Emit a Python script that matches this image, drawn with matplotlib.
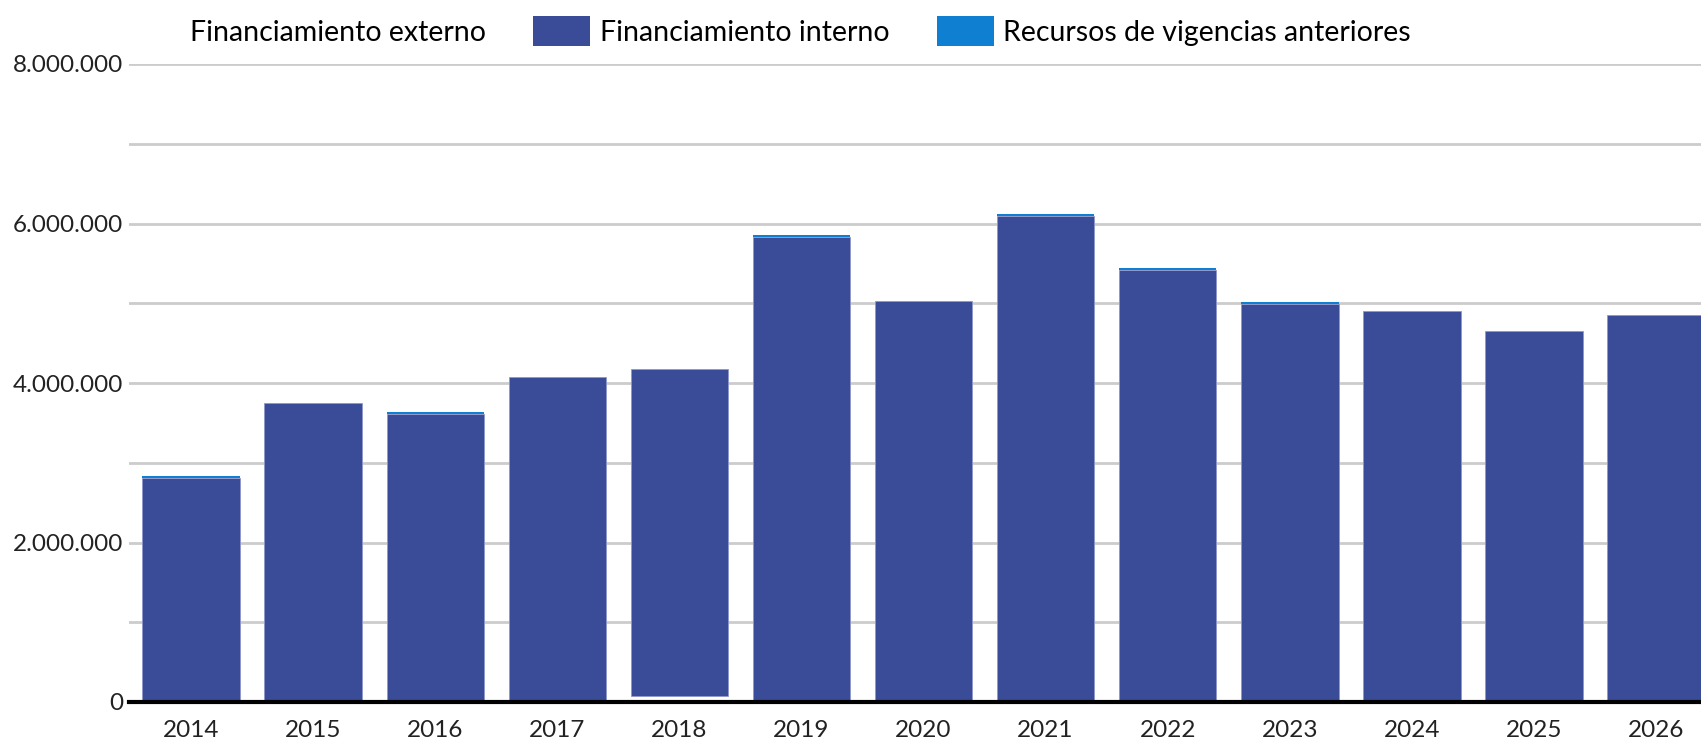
import matplotlib
matplotlib.use("Agg")
import matplotlib.pyplot as plt
import matplotlib.patches as mpatches
from matplotlib.ticker import FuncFormatter, MultipleLocator
import numpy as np

years = ["2014", "2015", "2016", "2017", "2018", "2019", "2020",
         "2021", "2022", "2023", "2024", "2025", "2026"]
externo = [0, 0, 0, 0, 80000, 0, 0, 0, 0, 0, 0, 0, 0]
interno = [2813000, 3743000, 3617000, 4069000, 4090000, 5827000, 5024000,
           6091000, 5413000, 4986000, 4898000, 4647000, 4848000]
anteriores = [25000, 0, 25000, 0, 0, 25000, 0, 25000, 25000, 25000, 0, 0, 0]

series_names = ["Financiamiento externo", "Financiamiento interno",
                "Recursos de vigencias anteriores"]
colors = ["#ffffff", "#3a4b98", "#0e7fd1"]

plt.rcParams['font.family'] = ['Lato', 'DejaVu Sans']

fig = plt.figure(figsize=(17.01, 7.43), dpi=100)
ax = fig.add_axes([129/1701, 41/743, 1 - 129/1701, (702-64)/743])

x = np.arange(len(years))
w = 0.8
ext = np.array(externo)
intr = np.array(interno)
ant = np.array(anteriores)
ax.bar(x, ext, w, color=colors[0], zorder=3)
ax.bar(x, intr, w, bottom=ext, color=colors[1], edgecolor="#8f98cc",
       linewidth=0.6, zorder=3)
ax.bar(x, ant, w, bottom=ext + intr, color=colors[2], linewidth=0, zorder=3)

ax.set_ylim(0, 8000000)
ax.set_xlim(-0.51, 12.37)
ax.yaxis.set_major_locator(MultipleLocator(2000000))
ax.yaxis.set_minor_locator(MultipleLocator(1000000))
ax.yaxis.set_major_formatter(FuncFormatter(lambda v, p: f"{int(v):,}".replace(",", ".")))
ax.grid(axis='y', which='both', color='#cccccc', linewidth=2, zorder=0)
ax.set_axisbelow(True)
for s in ['top', 'right', 'left']:
    ax.spines[s].set_visible(False)
ax.spines['bottom'].set_linewidth(3)
ax.spines['bottom'].set_color('black')
ax.spines['bottom'].set_zorder(5)
ax.tick_params(axis='y', which='both', length=0, labelsize=17.5, pad=4, colors='#222222')
ax.tick_params(axis='x', length=0, labelsize=17.5, pad=13, colors='#222222')
ax.set_xticks(x)
ax.set_xticklabels(years)

handles = [mpatches.Patch(facecolor=c, edgecolor='none') for c in colors]
fig.legend(handles, series_names, loc='upper center', bbox_to_anchor=(0.451, 1.005),
           ncol=3, frameon=False, fontsize=20.5, handlelength=2.0, handleheight=1.25,
           handletextpad=0.35, columnspacing=1.65, borderaxespad=0.3)

fig.savefig("out.png", dpi=100)
